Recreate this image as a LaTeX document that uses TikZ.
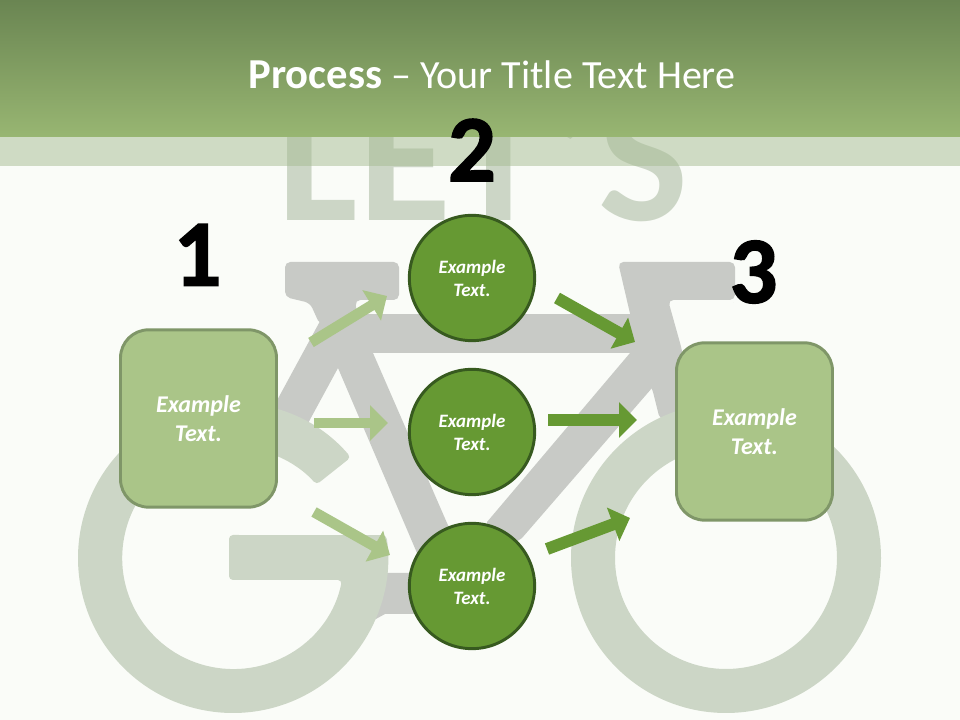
\documentclass[tikz,border=0pt]{standalone}
\usepackage{fontspec}
\setmainfont{Carlito}
\newfontfamily\numfont[BoldFeatures={FakeBold=1.6}]{Carlito}
\usepackage{xcolor}
\usetikzlibrary{positioning,calc,arrows.meta}
\definecolor{pagebg}{HTML}{FAFCF8}
\definecolor{headtop}{HTML}{6A8552}
\definecolor{headbot}{HTML}{98B672}
\definecolor{bandcol}{HTML}{A6BC92}
\definecolor{ghost}{HTML}{CCD6C6}
\definecolor{frame}{HTML}{C8CAC6}
\definecolor{lightgr}{HTML}{AAC588}
\definecolor{lightbd}{HTML}{7F9668}
\definecolor{darkgr}{HTML}{669933}
\definecolor{darkbd}{HTML}{375A1F}

\begin{document}
\begin{tikzpicture}[x=0.75pt,y=0.75pt,
                          boxnode/.style={draw=lightbd,fill=lightgr,line width=2.2pt,rounded corners=21pt,
                                          minimum width=117pt,minimum height=133pt,align=center,text=white,
                                          font=\fontsize{18}{21.75}\selectfont\bfseries\itshape},
                          circnode/.style={circle,draw=darkbd,fill=darkgr,line width=2.2pt,
                                          minimum size=94pt,align=center,text=white,
                                          font=\fontsize{14.2}{17.25}\selectfont\bfseries\itshape},
                          numnode/.style={font=\fontsize{71}{71}\selectfont\numfont\bfseries,text=black},
                          lightarrow/.style={-{Triangle[length=13.5pt,width=26pt]},draw=lightgr,fill=lightgr,line width=8pt},
                          darkarrow/.style={-{Triangle[length=13.5pt,width=26pt]},draw=darkgr,fill=darkgr,line width=9pt},
                          bikepart/.style={fill=frame,rounded corners=4pt}]
            \useasboundingbox (0,0) rectangle (960,720);
            \fill[pagebg] (0,0) rectangle (960,720);

            %Background lettering
            \node[anchor=base,text=ghost,font=\fontsize{143}{143}\selectfont\bfseries,inner sep=0pt] (lets) at (483,499) {LET’S};

            %Bike frame
            \fill[bikepart] (285,458) -- (399,458) -- (399,420) -- (355,420) -- (358,400) -- (320,395) -- (310,417) -- (285,423) -- cycle;
            \fill[frame] (340,406) rectangle (660,367);
            \fill[frame] (325,408) -- (268,303) -- (300,282) -- (338,352) -- (360,375) -- cycle;
            \fill[frame] (330,380) -- (373,367) -- (447,197) -- (470,150) -- (440,140) -- (417,167) -- (338,352) -- cycle;
            \fill[frame] (375,147) -- (460,147) -- (460,106) -- (385,106) -- (365,95) -- cycle;
            \fill[frame] (487,198) -- (630,367) -- (670,367) -- (652,332) -- (522,182) -- (490,160) -- cycle;
            \fill[bikepart] (618,458) -- (735,458) -- (735,420) -- (668,420) -- (682,370) -- (690,300) -- (660,300) -- (652,332) -- (630,367) -- (635,385) -- cycle;

            %Wheels
            \fill[ghost,rounded corners=3pt] (233,162) ++(40.5:155) arc[start angle=40.5,end angle=368.5,radius=155]
                -- (229,185) -- (229,140) -- (342,140) arc[start angle=348.6,end angle=41.4,radius=111] -- cycle;
            \fill[ghost,even odd rule] (726,162) circle[radius=155] (726,162) circle[radius=111];

            %Header
            \shade[top color=headtop,bottom color=headbot] (0,583) rectangle (960,720);
            \fill[bandcol,opacity=0.5] (0,554) rectangle (960,583);
            \node[text=white,font=\fontsize{30}{30}\selectfont,anchor=base] (title) at (492,631) {{\fontsize{32}{32}\selectfont\bfseries Process} – Your Title Text Here};

            %Lines
            \coordinate (a1s) at (311,377.5);
            \coordinate (a1e) at (387,424);
            \coordinate (a2s) at (314,297);
            \coordinate (a2e) at (388,297);
            \coordinate (a3s) at (314,208);
            \coordinate (a3e) at (390,165);
            \coordinate (a4s) at (557,422);
            \coordinate (a4e) at (635,378);
            \coordinate (a5s) at (548,300);
            \coordinate (a5e) at (637,300);
            \coordinate (a6s) at (547,171);
            \coordinate (a6e) at (630,202);
            \draw[lightarrow] (a1s) -- (a1e);
            \draw[lightarrow] (a2s) -- (a2e);
            \draw[lightarrow] (a3s) -- (a3e);
            \draw[darkarrow] (a4s) -- (a4e);
            \draw[darkarrow] (a5s) -- (a5e);
            \draw[darkarrow] (a6s) -- (a6e);

            %Nodes
            \node[boxnode] (box1) at (198.5,301.5) {Example\\Text.};
            \node[boxnode] (box3) at (754.5,288.5) {Example\\Text.};
            \node[circnode] (step1) at (472,442) {Example\\Text.};
            \node[circnode] (step2) at (472,288) {Example\\Text.};
            \node[circnode] (step3) at (472,134) {Example\\Text.};
            \node[numnode] (num1) at (197.5,465) {1};
            \node[numnode] (num2) at (472,570) {2};
            \node[numnode] (num3) at (753.5,448) {3};
\end{tikzpicture}
\end{document}
